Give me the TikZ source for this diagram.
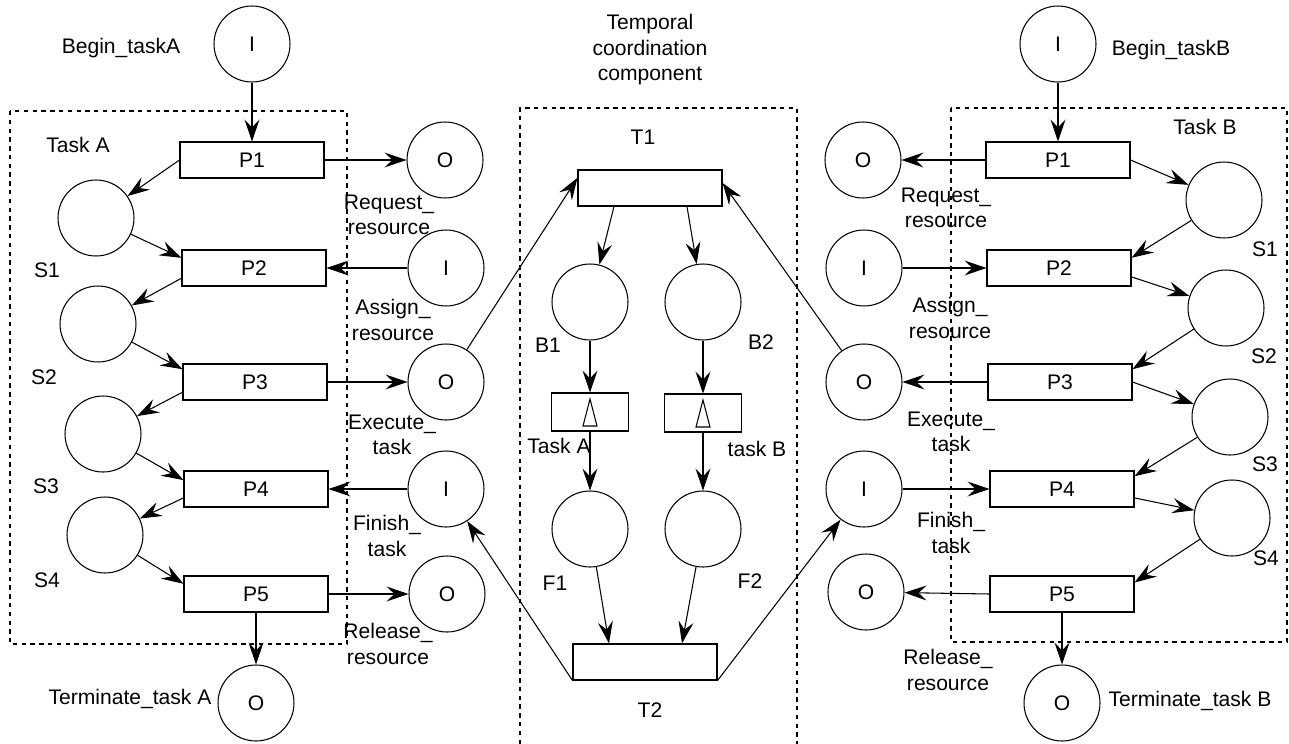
\documentclass[tikz,border=0pt]{standalone}
\usepackage{fontspec}
\setmainfont{Liberation Sans}
\usetikzlibrary{arrows.meta,calc}

\begin{document}
\begin{tikzpicture}[x=0.02cm, y=-0.02cm,
        every node/.style={font=\fontsize{12}{14.5}\selectfont},
        placenode/.style={circle, draw, line width=0.6pt, minimum
        size=1.52cm, inner sep=0pt},
        transnode/.style={rectangle, draw, line width=0.6pt, minimum
        width=2.88cm, minimum height=0.72cm, inner sep=0pt},
        tasknode/.style={rectangle, draw, line width=0.6pt, minimum
        width=1.54cm, minimum height=0.76cm, inner sep=0pt},
        arclink/.style={-{Stealth[length=12.5pt, width=8.5pt, inset=4.5pt]},
        line width=0.6pt},
        groupbox/.style={dash pattern=on 2.5pt off 2.5pt, line width=0.6pt},
        lbl/.style={align=center},
      ]
      \useasboundingbox (0,0) rectangle (1289,744);

      % Task A (left) - dashed frame, P1..P5 in a column, S1..S4 to the left
      \draw[groupbox] (10,111) rectangle (347,644);
      \node (lTaskA) at (78,145) {Task A};
      \node[placenode] (BeginA) at (252,44) {I};
      \node (lBeginA) at (121,48) {Begin\_taskA};
      \node[transnode] (PA1) at (252,160) {P1};
      \node[transnode] (PA2) at (254,268) {P2};
      \node[transnode] (PA3) at (255,382) {P3};
      \node[transnode] (PA4) at (256,489) {P4};
      \node[transnode] (PA5) at (256,594) {P5};
      \node[placenode] (SA1) at (96,218) {};
      \node[placenode] (SA2) at (98,324) {};
      \node[placenode] (SA3) at (103,434) {};
      \node[placenode] (SA4) at (105,535) {};
      \node (lSA1) at (47,270) {S1};
      \node (lSA2) at (44,377) {S2};
      \node (lSA3) at (46,486) {S3};
      \node (lSA4) at (47,580) {S4};
      \node[placenode] (TermA) at (256,703) {O};
      \node (lTermA) at (130,699) {Terminate\_task A};
      \draw[arclink] (BeginA) -- (PA1);
      \draw[arclink] (PA1.west) -- (SA1);
      \draw[arclink] (SA1) -- (PA2.172);
      \draw[arclink] (PA2.188) -- (SA2);
      \draw[arclink] (SA2) -- (PA3.170);
      \draw[arclink] (PA3.188) -- (SA3);
      \draw[arclink] (SA3) -- (PA4.173);
      \draw[arclink] (PA4.187) -- (SA4);
      \draw[arclink] (SA4) -- (PA5.172);
      \draw[arclink] (PA5) -- (TermA);

      % Resource places of task A
      \node[placenode] (ReqA) at (445,160) {O};
      \node[placenode] (AssA) at (446,268) {I};
      \node[placenode] (ExeA) at (446,382) {O};
      \node[placenode] (FinA) at (446,489) {I};
      \node[placenode] (RelA) at (447,594) {O};
      \node[lbl] (lReqA) at (389,215) {Request\_\\resource};
      \node[lbl] (lAssA) at (393,320) {Assign\_\\resource};
      \node[lbl] (lExeA) at (392,435) {Execute\_\\task};
      \node[lbl] (lFinA) at (387,536) {Finish\_\\task};
      \node[lbl] (lRelA) at (388,644) {Release\_\\resource};
      \draw[arclink] (PA1) -- (ReqA);
      \draw[arclink] (AssA) -- (PA2);
      \draw[arclink] (PA3) -- (ExeA);
      \draw[arclink] (FinA) -- (PA4);
      \draw[arclink] (PA5) -- (RelA);

      % Temporal coordination component (middle)
      \draw[groupbox] (520,744) -- (520,108) -- (797,108) -- (797,744);
      \node[lbl] (lTemp) at (650,50) {Temporal\\coordination\\component};
      \node[transnode] (T1) at (650,188) {};
      \node (lT1) at (643,137) {T1};
      \node[placenode] (B1) at (590,302) {};
      \node[placenode] (B2) at (703,302) {};
      \node (lB1) at (548,345) {B1};
      \node (lB2) at (761,342) {B2};
      \node[tasknode] (TkA) at (590,412) {};
      \node[tasknode] (TkB) at (703,413) {};
      \draw[line width=0.6pt] ($(TkA.center)+(0,-13)$) -- ($(TkA.center)+(7,14)$)
        -- ($(TkA.center)+(-7,14)$) -- cycle;
      \draw[line width=0.6pt] ($(TkB.center)+(0,-13)$) -- ($(TkB.center)+(7,14)$)
        -- ($(TkB.center)+(-7,14)$) -- cycle;
      \node (lTkA) at (559,446) {Task A};
      \node (lTkB) at (757,449) {task B};
      \node[placenode] (F1) at (590,529) {};
      \node[placenode] (F2) at (703,529) {};
      \node (lF1) at (555,583) {F1};
      \node (lF2) at (750,581) {F2};
      \node[transnode] (T2) at (645,662) {};
      \node (lT2) at (650,710) {T2};
      \draw[arclink] ($(T1.south)+(-36,0)$) -- (B1);
      \draw[arclink] ($(T1.south)+(37,0)$) -- (B2);
      \draw[arclink] (B1) -- (TkA);
      \draw[arclink] (B2) -- (TkB);
      \draw[arclink] (TkA) -- (F1);
      \draw[arclink] (TkB) -- (F2);
      \draw[arclink] (F1) -- ($(T2.north)+(-36,0)$);
      \draw[arclink] (F2) -- ($(T2.north)+(37,0)$);

      % Task B (right) - mirror of task A
      \draw[groupbox] (951,108) rectangle (1287,642);
      \node (lTaskB) at (1205,127) {Task B};
      \node[placenode] (BeginB) at (1058,44) {I};
      \node (lBeginB) at (1171,50) {Begin\_taskB};
      \node[transnode] (PB1) at (1058,160) {P1};
      \node[transnode] (PB2) at (1059,268) {P2};
      \node[transnode] (PB3) at (1060,382) {P3};
      \node[transnode] (PB4) at (1062,489) {P4};
      \node[transnode] (PB5) at (1062,594) {P5};
      \node[placenode] (SB1) at (1224,200) {};
      \node[placenode] (SB2) at (1226,308) {};
      \node[placenode] (SB3) at (1230,417) {};
      \node[placenode] (SB4) at (1232,518) {};
      \node (lSB1) at (1265,249) {S1};
      \node (lSB2) at (1264,356) {S2};
      \node (lSB3) at (1265,464) {S3};
      \node (lSB4) at (1266,558) {S4};
      \node[placenode] (TermB) at (1062,703) {O};
      \node (lTermB) at (1190,701) {Terminate\_task B};
      \draw[arclink] (BeginB) -- (PB1);
      \draw[arclink] (PB1.east) -- (SB1);
      \draw[arclink] (SB1) -- (PB2.8);
      \draw[arclink] (PB2.353) -- (SB2);
      \draw[arclink] (SB2) -- (PB3.10);
      \draw[arclink] (PB3.east) -- (SB3);
      \draw[arclink] (SB3) -- (PB4.10);
      \draw[arclink] (PB4.353) -- (SB4);
      \draw[arclink] (SB4) -- (PB5.9);
      \draw[arclink] (PB5) -- (TermB);

      % Resource places of task B
      \node[placenode] (ReqB) at (863,160) {O};
      \node[placenode] (AssB) at (864,268) {I};
      \node[placenode] (ExeB) at (864,382) {O};
      \node[placenode] (FinB) at (864,489) {I};
      \node[placenode] (RelB) at (866,592) {O};
      \node[lbl] (lReqB) at (946,208) {Request\_\\resource};
      \node[lbl] (lAssB) at (950,318) {Assign\_\\resource};
      \node[lbl] (lExeB) at (951,432) {Execute\_\\task};
      \node[lbl] (lFinB) at (951,533) {Finish\_\\task};
      \node[lbl] (lRelB) at (948,670) {Release\_\\resource};
      \draw[arclink] (PB1) -- (ReqB);
      \draw[arclink] (AssB) -- (PB2);
      \draw[arclink] (PB3) -- (ExeB);
      \draw[arclink] (FinB) -- (PB4);
      \draw[arclink] (PB5.west) -- (RelB);

      % Links between the tasks and the coordination component
      \draw[arclink] (ExeA) -- (T1.172);
      \draw[arclink] (ExeB) -- (T1.4);
      \draw[arclink] (T2.south west) -- (FinA);
      \draw[arclink] (T2.south east) -- (FinB);
    \end{tikzpicture}
\end{document}
